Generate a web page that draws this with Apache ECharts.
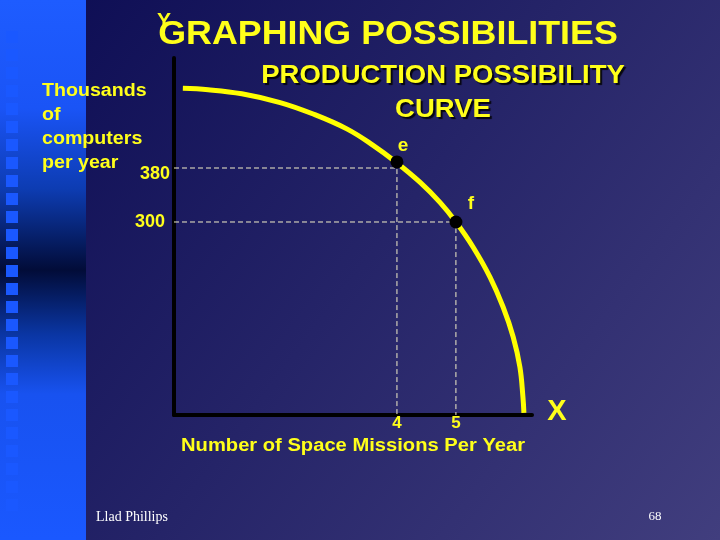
<!DOCTYPE html>
<html>
<head>
<meta charset="utf-8">
<script src="https://cdn.jsdelivr.net/npm/echarts@6/dist/echarts.min.js"></script>
<style>html,body{margin:0;padding:0;background:#1a1a5e;}#c{width:720px;height:540px;}</style>
</head>
<body>
<div id="c"></div>
<script>
// ---- data ----
const curveX = [0.37, 0.80, 1.37, 2.02, 2.58, 3.15, 3.59, 3.98, 4.39, 4.73, 5.0, 5.29, 5.58, 5.80, 5.97, 6.085, 6.136, 6.153];
const curveY = [498, 496, 490, 477, 460, 438, 414, 389, 359, 329, 300, 263, 218, 174, 130, 85, 41, 17];
const pointNames = ['e', 'f'];
const pointX = [4, 5];
const pointY = [389, 300];
const guideY = [380, 300];
const xTicks = [4, 5];
const yTicks = [300, 380];
const xMin = 0.22, xMax = 6.29, yMin = 14, yMax = 543;

const YEL = '#ffff1a';
const FONT = '"Liberation Sans", Arial, sans-serif';

const chart = echarts.init(document.getElementById('c'), null, {renderer: 'canvas'});

const curveData = curveX.map((x, i) => [x, curveY[i]]);
const guideSeries = pointX.map((x, i) => ({
  type: 'line', silent: true, symbol: 'none', z: 3,
  data: [[xMin, guideY[i]], [x, guideY[i]], [x, yMin]],
  lineStyle: {color: '#f2eec8', width: 1, type: [5, 3], opacity: 1}
}));
const labelOffsets = [[6, -16], [15, -18]];
const pointData = pointX.map((x, i) => ({
  value: [x, pointY[i]], name: pointNames[i],
  label: {show: true, formatter: pointNames[i], position: 'inside', offset: labelOffsets[i],
    color: YEL, textBorderWidth: 0, fontFamily: FONT, fontWeight: 'bold', fontSize: 19}
}));

// decorative squares on left band
const squares = [];
for (let k = 0; k < 27; k++) {
  squares.push({type: 'rect', z: -9, silent: true,
    shape: {x: 6, y: 31 + 18 * k, width: 12, height: 12},
    style: {fill: '#1a58ff'}});
}

const option = {
  animation: false,
  backgroundColor: {type: 'linear', x: 0, y: 0, x2: 1, y2: 1, colorStops: [
    {offset: 0, color: '#0b0b52'}, {offset: 0.5, color: '#252468'}, {offset: 1, color: '#413e7e'}]},
  grid: {left: 174, right: 188, top: 58, bottom: 125},
  xAxis: {
    type: 'value', min: xMin, max: xMax,
    axisLine: {show: true, lineStyle: {color: '#000', width: 4}},
    axisTick: {show: false}, splitLine: {show: false},
    axisLabel: {customValues: xTicks, margin: 0, color: YEL, fontFamily: FONT, fontWeight: 'bold', fontSize: 17}
  },
  yAxis: {
    type: 'value', min: yMin, max: yMax,
    axisLine: {show: true, lineStyle: {color: '#000', width: 4}},
    axisTick: {show: false}, splitLine: {show: false},
    axisLabel: {customValues: yTicks, margin: 4, color: YEL, fontFamily: FONT, fontWeight: 'bold', fontSize: 18,
      formatter: v => v === 380 ? '{a|380}' : '{b|300}',
      rich: {a: {color: YEL, fontFamily: FONT, fontWeight: 'bold', fontSize: 18, padding: [12, 0, 0, 0]},
             b: {color: YEL, fontFamily: FONT, fontWeight: 'bold', fontSize: 18, padding: [0, 5, 0, 0]}}}
  },
  graphic: [
    {type: 'rect', z: -10, silent: true, shape: {x: 0, y: 0, width: 86, height: 540},
      style: {fill: {type: 'linear', x: 0, y: 0, x2: 0, y2: 1, colorStops: [
        {offset: 0, color: '#1e5cff'}, {offset: 0.2, color: '#1a54f6'}, {offset: 0.35, color: '#0d3cb2'},
        {offset: 0.5, color: '#020c38'}, {offset: 0.62, color: '#0a36a4'}, {offset: 0.73, color: '#1852f0'},
        {offset: 1, color: '#1a58ff'}]}}},
    ...squares,
    {type: 'text', z: 10, silent: true, x: 388, y: 35, scaleX: 1.085,
      style: {text: 'GRAPHING POSSIBILITIES', fill: YEL, font: 'bold 33px ' + FONT, align: 'center', verticalAlign: 'middle'}},
    {type: 'text', z: 11, silent: true, x: 164, y: 21,
      style: {text: 'Y', fill: YEL, font: 'bold 21px ' + FONT, align: 'center', verticalAlign: 'middle'}},
    {type: 'text', z: 10, silent: true, x: 443, y: 93, scaleX: 1.1,
      style: {text: 'PRODUCTION POSSIBILITY\nCURVE', fill: YEL, font: 'bold 25px ' + FONT, align: 'center', verticalAlign: 'middle',
        lineHeight: 34, textShadowColor: 'rgba(0,0,0,0.85)', textShadowOffsetX: 2, textShadowOffsetY: 2, textShadowBlur: 1}},
    {type: 'text', z: 10, silent: true, x: 42, y: 79, scaleX: 1.09,
      style: {text: 'Thousands\nof\ncomputers\nper year', fill: YEL, font: 'bold 18px ' + FONT, align: 'left', verticalAlign: 'top', lineHeight: 24}},
    {type: 'text', z: 10, silent: true, x: 353, y: 446, scaleX: 1.12,
      style: {text: 'Number of Space Missions Per Year', fill: YEL, font: 'bold 18px ' + FONT, align: 'center', verticalAlign: 'middle'}},
    {type: 'text', z: 10, silent: true, x: 557, y: 412,
      style: {text: 'X', fill: YEL, font: 'bold 29px ' + FONT, align: 'center', verticalAlign: 'middle'}},
    {type: 'text', z: 10, silent: true, x: 96, y: 517,
      style: {text: 'Llad Phillips', fill: '#ffffff', font: '14px "Liberation Serif", "Times New Roman", serif', align: 'left', verticalAlign: 'middle'}},
    {type: 'text', z: 10, silent: true, x: 655, y: 517,
      style: {text: '68', fill: '#ffffff', font: '13px "Liberation Serif", "Times New Roman", serif', align: 'center', verticalAlign: 'middle'}}
  ],
  series: [
    ...guideSeries,
    {type: 'line', silent: true, symbol: 'none', smooth: 0.4, z: 4, data: curveData,
      lineStyle: {color: '#ffff00', width: 5, opacity: 1}},
    {type: 'scatter', silent: true, z: 5, symbolSize: 13, data: pointData, itemStyle: {color: '#000', opacity: 1}}
  ]
};
chart.setOption(option);
</script>
</body>
</html>
